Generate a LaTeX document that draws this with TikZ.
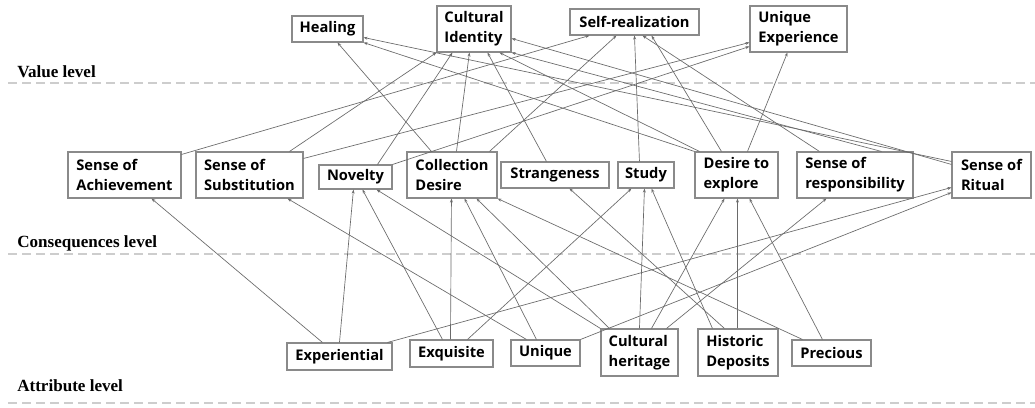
\documentclass[tikz,border=0pt]{standalone}
\usepackage{fontspec}
\setmainfont{Liberation Serif}
\newfontfamily\lblfont{Liberation Serif}
\newfontfamily\boxfont{Open Sans}
\usetikzlibrary{arrows.meta,calc}
\definecolor{boxgray}{HTML}{8A8A8A}
\definecolor{linegray}{HTML}{6A6A6A}
\definecolor{dashgray}{HTML}{CDCDCD}
\begin{document}
\begin{tikzpicture}[x=0.75pt,y=-0.75pt,
  box/.style={draw=boxgray, line width=0.8pt, fill=white, align=left, inner sep=0pt,
    font=\boxfont\bfseries\fontsize{11}{15}\selectfont, text=black},
  wh/.style 2 args={minimum width=#1*0.75pt, minimum height=#2*0.75pt},
  conn/.style={draw=linegray, line width=0.5pt, -{Stealth[length=3pt,width=2.2pt]}},
  levelsep/.style={draw=dashgray, line width=2.2pt, dash pattern=on 7pt off 3.5pt},
  levellabel/.style={anchor=base west, inner sep=0pt, font=\lblfont\bfseries\fontsize{12.8}{14}\selectfont}
]
\useasboundingbox (0,0) rectangle (1035,407);
\fill[white] (0,0) rectangle (1035,407);

% level separators
\coordinate (s1a) at (8,83);   \coordinate (s1b) at (1035,83);
\coordinate (s2a) at (8,254);  \coordinate (s2b) at (1035,254);
\coordinate (s3a) at (8,403);  \coordinate (s3b) at (1035,403);
\draw[levelsep] (s1a) -- (s1b);
\draw[levelsep] (s2a) -- (s2b);
\draw[levelsep] (s3a) -- (s3b);

\node[levellabel] (lv) at (17,77) {Value level};
\node[levellabel] (lc) at (17,247) {Consequences level};
\node[levellabel] (la) at (17,391) {Attribute level};

% value level
\node[box, wh={71}{26}] (heal) at (327.5,29) {Healing};
\node[box, wh={74}{46}] (ci) at (474,29) {Cultural\\Identity};
\node[box, wh={129}{26}] (sr) at (634.5,22) {Self-realization};
\node[box, wh={97}{46}] (ue) at (798.5,29) {Unique\\Experience};

% consequence level
\node[box, wh={113}{46}] (soa) at (124.5,175) {Sense of\\Achievement};
\node[box, wh={107}{46}] (sos) at (249.5,175) {Sense of\\Substitution};
\node[box, wh={73}{24}] (nov) at (355.5,177) {Novelty};
\node[box, wh={90}{46}] (cd) at (452,175) {Collection\\Desire};
\node[box, wh={108}{26}] (str) at (555,175) {Strangeness};
\node[box, wh={56}{26}] (stu) at (646,175) {Study};
\node[box, wh={83}{46}] (dte) at (736.5,175) {Desire to\\explore};
\node[box, wh={116}{46}] (sor) at (855,175) {Sense of\\responsibility};
\node[box, wh={79}{46}] (rit) at (991.5,175) {Sense of\\Ritual};

% attribute level
\node[box, wh={105}{27}] (exp) at (339.5,356.5) {Experiential};
\node[box, wh={83}{27}] (exq) at (451.5,353.5) {Exquisite};
\node[box, wh={69}{26}] (uni) at (545.5,353) {Unique};
\node[box, wh={77}{47}] (ch) at (639.5,352.5) {Cultural\\heritage};
\node[box, wh={80}{47}] (hd) at (738,352.5) {Historic\\Deposits};
\node[box, wh={79}{26}] (pre) at (831.5,353) {Precious};

% attribute -> consequence
\draw[conn] ($(exp.north west)+(36,0)$) -- ($(soa.south west)+(84,0)$);
\draw[conn] ($(exp.north west)+(53,0)$) -- ($(nov.south west)+(35,0)$);
\draw[conn] ($(exp.north west)+(101,0)$) -- ($(rit.north west)+(0,36)$);
\draw[conn] ($(exq.north west)+(33,0)$) -- ($(nov.south west)+(44,0)$);
\draw[conn] ($(exq.north west)+(41,0)$) -- ($(cd.south west)+(45,0)$);
\draw[conn] ($(exq.north west)+(58,0)$) -- ($(stu.south west)+(14,0)$);
\draw[conn] ($(uni.north west)+(16,0)$) -- ($(sos.south west)+(92,0)$);
\draw[conn] ($(uni.north west)+(26,0)$) -- ($(cd.south west)+(58,0)$);
\draw[conn] (uni.north east) -- ($(rit.north west)+(0,41)$);
\draw[conn] ($(ch.north west)+(9,0)$) -- ($(cd.south west)+(70,0)$);
\draw[conn] ($(ch.north west)+(39,0)$) -- ($(stu.south west)+(27,0)$);
\draw[conn] ($(ch.north west)+(51,0)$) -- ($(dte.south west)+(30,0)$);
\draw[conn] ($(ch.north west)+(66,0)$) -- ($(sor.south west)+(30,0)$);
\draw[conn] ($(hd.north west)+(15,0)$) -- ($(stu.south west)+(34,0)$);
\draw[conn] ($(hd.north west)+(27,0)$) -- ($(str.south west)+(69,0)$);
\draw[conn] ($(hd.north west)+(40,0)$) -- ($(dte.south west)+(43,0)$);
\draw[conn] ($(pre.north west)+(11,0)$) -- (cd.south east);
\draw[conn] ($(pre.north west)+(31,0)$) -- ($(dte.south west)+(55,0)$);
\draw[conn] (ch.north west) -- ($(nov.south west)+(58,0)$);

% consequence -> value
\draw[conn] ($(cd.north west)+(25,0)$) -- ($(heal.south west)+(46,0)$);
\draw[conn] ($(rit.north west)+(0,10)$) -- ($(heal.north east)+(0,22)$);
\draw[conn] (dte.north west) -- (heal.south east);
\draw[conn] ($(sos.north west)+(94,0)$) -- (ci.south west);
\draw[conn] ($(nov.north west)+(59,0)$) -- ($(ci.south west)+(16,0)$);
\draw[conn] ($(cd.north west)+(50,0)$) -- ($(ci.south west)+(33,0)$);
\draw[conn] ($(str.north west)+(46,0)$) -- ($(ci.south west)+(51,0)$);
\draw[conn] ($(dte.north west)+(5,0)$) -- ($(ci.south west)+(63,0)$);
\draw[conn] ($(sor.north west)+(85,0)$) -- (ci.south east);
\draw[conn] ($(rit.north west)+(0,13)$) -- ($(ci.north east)+(0,33)$);
\draw[conn] ($(soa.north east)+(0,3)$) -- ($(sr.south west)+(20,0)$);
\draw[conn] ($(cd.north west)+(83,0)$) -- ($(sr.south west)+(47,0)$);
\draw[conn] ($(stu.north west)+(22,0)$) -- ($(sr.south west)+(65,0)$);
\draw[conn] ($(sor.north west)+(23,0)$) -- ($(sr.south west)+(73,0)$);
\draw[conn] ($(dte.north west)+(27,0)$) -- ($(sr.south west)+(82,0)$);
\draw[conn] ($(sos.north east)+(0,7)$) -- ($(ue.north west)+(0,37)$);
\draw[conn] (nov.north east) -- ($(ue.north west)+(0,41)$);
\draw[conn] ($(dte.north west)+(53,0)$) -- ($(ue.south west)+(38,0)$);
\end{tikzpicture}
\end{document}
